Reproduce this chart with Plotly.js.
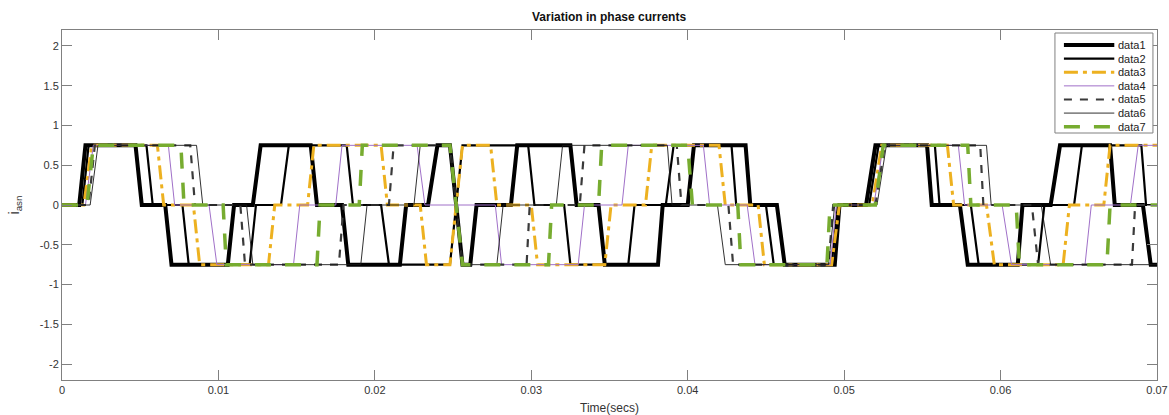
<!DOCTYPE html>
<html>
<head>
<meta charset="utf-8">
<script src="https://cdn.plot.ly/plotly-3.0.1.min.js"></script>
<style>html,body{margin:0;padding:0;background:#fff;}#chart{width:1169px;height:415px;}</style>
</head>
<body>
<div id="chart"></div>
<script>
// Transition events: [start time, end time, new level]
const data1_events = [[0.0011,0.0015,0.75],[0.0047,0.0051,0],[0.0066,0.0070,-0.75],[0.0106,0.0110,0],[0.0122,0.0127,0.75],[0.0159,0.0163,0],[0.0179,0.0183,-0.75],[0.0216,0.0220,0],[0.0234,0.0240,0.75],[0.0248,0.0256,-0.75],[0.0261,0.0265,0],[0.0287,0.0291,0.75],[0.0325,0.0329,0],[0.0343,0.0347,-0.75],[0.0381,0.0384,0],[0.0400,0.0404,0.75],[0.0437,0.0440,0],[0.0457,0.0462,-0.75],[0.0494,0.0497,0],[0.0514,0.0520,0.75],[0.0553,0.0556,0],[0.0574,0.0579,-0.75],[0.0611,0.0614,0],[0.0632,0.0638,0.75],[0.0670,0.0673,0],[0.0691,0.0696,-0.75]];
const data2_events = [[0.0013,0.0017,0.75],[0.0054,0.0058,0],[0.0077,0.0081,-0.75],[0.0120,0.0124,0],[0.0140,0.0145,0.75],[0.0182,0.0186,0],[0.0204,0.0209,-0.75],[0.0248,0.0256,0.75],[0.0298,0.0302,0],[0.0321,0.0325,-0.75],[0.0362,0.0366,0],[0.0386,0.0391,0.75],[0.0428,0.0431,0],[0.0450,0.0455,-0.75],[0.0492,0.0496,0],[0.0516,0.0522,0.75],[0.0558,0.0561,0],[0.0581,0.0586,-0.75],[0.0624,0.0628,0],[0.0647,0.0652,0.75],[0.0690,0.0693,0]];
const data3_events = [[0.0014,0.0019,0.75],[0.0061,0.0065,0],[0.0084,0.0088,-0.75],[0.0132,0.0136,0],[0.0157,0.0161,0.75],[0.0204,0.0208,0],[0.0229,0.0233,-0.75],[0.0248,0.0256,0.75],[0.0274,0.0278,0],[0.0300,0.0304,-0.75],[0.0347,0.0351,0],[0.0373,0.0377,0.75],[0.0420,0.0424,0],[0.0445,0.0449,-0.75],[0.0492,0.0497,0],[0.0518,0.0524,0.75],[0.0566,0.0570,0],[0.0591,0.0596,-0.75],[0.0640,0.0644,0],[0.0666,0.0670,0.75]];
const data4_events = [[0.0015,0.0020,0.75],[0.0068,0.0072,0],[0.0094,0.0099,-0.75],[0.0148,0.0152,0],[0.0175,0.0179,0.75],[0.0227,0.0232,0],[0.0277,0.0281,-0.75],[0.0330,0.0334,0],[0.0358,0.0362,0.75],[0.0410,0.0414,0],[0.0438,0.0443,-0.75],[0.0491,0.0495,0],[0.0519,0.0525,0.75],[0.0573,0.0577,0],[0.0601,0.0607,-0.75],[0.0654,0.0658,0],[0.0683,0.0688,0.75]];
const data5_events = [[0.0017,0.0021,0.75],[0.0082,0.0085,0],[0.0114,0.0117,-0.75],[0.0177,0.0180,0],[0.0209,0.0212,0.75],[0.0248,0.0256,-0.75],[0.0297,0.0299,0],[0.0331,0.0334,0.75],[0.0393,0.0396,0],[0.0426,0.0429,-0.75],[0.0490,0.0493,0],[0.0520,0.0526,0.75],[0.0587,0.0589,0],[0.0620,0.0624,-0.75],[0.0684,0.0686,0]];
const data6_events = [[0.0018,0.0023,0.75],[0.0086,0.0090,0],[0.0118,0.0122,-0.75],[0.0191,0.0195,0],[0.0225,0.0229,0.75],[0.0248,0.0256,-0.75],[0.0278,0.0282,0],[0.0316,0.0320,0.75],[0.0387,0.0390,0],[0.0419,0.0424,-0.75],[0.0490,0.0494,0],[0.0521,0.0527,0.75],[0.0591,0.0594,0],[0.0626,0.0632,-0.75]];
const data7_events = [[0.0016,0.0020,0.75],[0.0076,0.0078,0],[0.0103,0.0105,-0.75],[0.0163,0.0165,0],[0.0190,0.0192,0.75],[0.0248,0.0256,-0.75],[0.0311,0.0313,0],[0.0343,0.0345,0.75],[0.0400,0.0403,0],[0.0432,0.0434,-0.75],[0.0489,0.0491,0],[0.0520,0.0525,0.75],[0.0579,0.0581,0],[0.0610,0.0612,-0.75],[0.0668,0.0670,0]];

const seriesNames = ['data1','data2','data3','data4','data5','data6','data7'];
const tStart = 0, tEnd = 0.07, startLevel = 0;
const xTickVals = [0,0.01,0.02,0.03,0.04,0.05,0.06,0.07];
const xTickText = ['0','0.01','0.02','0.03','0.04','0.05','0.06','0.07'];
const yTickVals = [-2,-1.5,-1,-0.5,0,0.5,1,1.5,2];
const yTickText = ['-2','-1.5','-1','-0.5','0','0.5','1','1.5','2'];

function build(events){
  const x=[tStart], y=[startLevel]; let lvl=startLevel;
  for(const [a,b,v] of events){ x.push(a); y.push(lvl); x.push(b); y.push(v); lvl=v; }
  x.push(tEnd); y.push(lvl);
  return {x,y};
}
const allEvents=[data1_events,data2_events,data3_events,data4_events,data5_events,data6_events,data7_events];
const styles=[
  {color:'#000000',width:4,dash:'solid'},
  {color:'#000000',width:2.2,dash:'solid'},
  {color:'#EDB120',width:3,dash:'14px,5px,4px,5px'},
  {color:'#A070C8',width:1,dash:'solid'},
  {color:'#3a3a3a',width:2.2,dash:'8px,8px'},
  {color:'#1a1a1a',width:0.9,dash:'solid'},
  {color:'#77AC30',width:3.5,dash:'16px,14px'}
];
const traces=allEvents.map((ev,i)=>{const d=build(ev);return {x:d.x,y:d.y,type:'scatter',mode:'lines',name:seriesNames[i],line:styles[i],showlegend:false};});

// Legend box drawn in paper coordinates (MATLAB-style compact legend)
const L = {x0:0.9068, x1:0.9963, yTop:0.9914, yBot:0.7057, lineX0:0.9150, lineX1:0.9610, textX:0.9625, firstY:0.9571, step:0.0389};
const shapes=[{type:'rect',xref:'paper',yref:'paper',x0:L.x0,x1:L.x1,y0:L.yBot,y1:L.yTop,fillcolor:'#ffffff',line:{color:'#808080',width:1},layer:'above'}];
const annotations=[];
seriesNames.forEach((n,i)=>{
  const yy=L.firstY-i*L.step;
  shapes.push({type:'line',xref:'paper',yref:'paper',x0:L.lineX0,x1:L.lineX1,y0:yy,y1:yy,line:{color:styles[i].color,width:styles[i].width,dash:styles[i].dash},layer:'above'});
  annotations.push({xref:'paper',yref:'paper',x:L.textX,y:yy,xanchor:'left',yanchor:'middle',text:n,showarrow:false,font:{size:11,color:'#222'}});
});

const layout={
  width:1169,height:415,
  margin:{l:62,r:12,t:30,b:35},
  paper_bgcolor:'#fff',plot_bgcolor:'#fff',
  font:{family:'Liberation Sans, Arial, sans-serif',size:11,color:'#333'},
  title:{text:'<b>Variation in phase currents</b>',x:0.521,xanchor:'center',y:0.96,yanchor:'middle',font:{size:12,color:'#111'}},
  xaxis:{range:[0,0.07],tickvals:xTickVals,ticktext:xTickText,ticks:'inside',ticklen:10,tickcolor:'#808080',
    showline:true,linecolor:'#808080',linewidth:1,mirror:'ticks',showgrid:false,zeroline:false,
    tickfont:{size:11,color:'#333'},title:{text:'Time(secs)',font:{size:12,color:'#333'},standoff:9}},
  yaxis:{range:[-2.2,2.2],tickvals:yTickVals,ticktext:yTickText,ticks:'inside',ticklen:10,tickcolor:'#808080',
    showline:true,linecolor:'#808080',linewidth:1,mirror:'ticks',showgrid:false,zeroline:false,
    tickfont:{size:11,color:'#333'},title:{text:'i<sub>asn</sub>',font:{size:14,color:'#333'},standoff:16}},
  shapes:shapes,
  annotations:annotations,
  showlegend:false
};
Plotly.newPlot('chart',traces,layout,{displayModeBar:false,staticPlot:true});
</script>
</body>
</html>
